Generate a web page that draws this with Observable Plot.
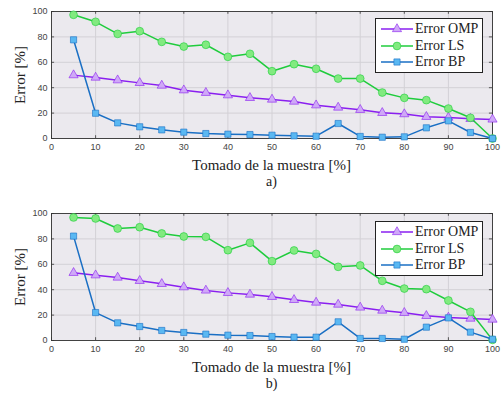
<!DOCTYPE html>
<html>
<head>
<meta charset="utf-8">
<script src="https://cdn.jsdelivr.net/npm/d3@7"></script>
<script src="https://cdn.jsdelivr.net/npm/@observablehq/plot@0.6"></script>
<style>
  body { margin: 0; background: #fff; }
  #wrap { width: 501px; position: relative; }
  .panel { position: relative; width: 501px; }
  .legend { position: absolute; background: #fff; border: 1px solid #222; box-sizing: border-box;
            font-family: "Liberation Serif", "Times New Roman", serif; font-size: 14px; color: #222; }
  .legend .row { display: flex; align-items: center; height: 16.5px; }
  .legend svg { flex: none; }
  .lbl { position: absolute; font-family: "Liberation Serif", "Times New Roman", serif; color: #222;
         white-space: nowrap; line-height: 1; transform: translate(-50%, -50%); }
  .lbl.rot { transform: translate(-50%, -50%) rotate(-90deg); }
</style>
</head>
<body>
<div id="wrap"></div>
<script>
const xs = [5,10,15,20,25,30,35,40,45,50,55,60,65,70,75,80,85,90,95,100];
const seriesNames = ["Error OMP", "Error LS", "Error BP"];
const panelLabels = ["a)", "b)"];
const xLabel = "Tomado de la muestra [%]";
const yLabel = "Error [%]";
const xTicks = [0,10,20,30,40,50,60,70,80,90,100];
const yTicks = [0,20,40,60,80,100];

// Panel a)
const ompA = [49.9,48,45.9,43.8,41.7,38,36,34.1,32,30.7,29.1,26.2,24.4,22.6,20.2,19.2,17.1,16.5,15.5,15];
const lsA  = [97.4,91.9,82.4,84.5,76.1,72.4,73.8,64.3,66.7,53,58.5,54.9,47.2,47.2,36.2,32,30.2,23.6,16.3,0];
const bpA  = [77.7,19.9,12.3,9.2,6.8,5,3.9,3.4,3.1,2.6,2.1,1.8,11.8,1.6,1,1.3,8.4,13.9,4.7,0];
// Panel b)
const ompB = [53.3,51.4,49.6,47,44.6,42,39.4,37.5,36.2,34.4,32,29.9,28.3,26,23.6,21.8,19.4,18.1,17.3,16.5];
const lsB  = [96.9,96.1,88.2,89.2,84.3,81.9,81.6,71.1,76.9,62.5,70.9,68.2,58,59.1,47,40.9,40.4,31.5,22.6,0.5];
const bpB  = [82.2,22,13.9,11,7.9,6.3,5,4.2,3.9,3.1,2.6,2.6,14.7,1.6,1.6,1,10.5,17.8,6.6,1];

const styles = {
  "Error OMP": {stroke: "#8a1ff0", fill: "#cfa9f7", symbol: "triangle", r: 3.4},
  "Error LS":  {stroke: "#1fcc3c", fill: "#82ea80", symbol: "circle", r: 3.9},
  "Error BP":  {stroke: "#1a6fc4", fill: "#5ab8f2", symbol: "square", r: 3.5}
};

function table(omp, ls, bp) {
  const rows = [];
  [omp, ls, bp].forEach((vals, k) => vals.forEach((v, i) => rows.push({x: xs[i], y: v, s: seriesNames[k]})));
  return rows;
}

const panels = [
  {data: table(ompA, lsA, bpA), label: panelLabels[0], height: 195, mt: 11, mb: 57, legendTop: 18},
  {data: table(ompB, lsB, bpB), label: panelLabels[1], height: 201, mt: 18, mb: 56, legendTop: 26}
];

const wrap = document.getElementById("wrap");
const ML = 51, MR = 9;

function addLabel(parent, text, x, y, size, rot) {
  const el = document.createElement("div");
  el.className = "lbl" + (rot ? " rot" : "");
  el.textContent = text;
  el.style.left = x + "px";
  el.style.top = y + "px";
  el.style.fontSize = size + "px";
  parent.appendChild(el);
}

for (const p of panels) {
  const marks = [
    Plot.frame({fill: "#ebe9ee"}),
    Plot.ruleX(xTicks, {x: d => d, stroke: "#d3d1d6", strokeWidth: 1}),
    Plot.ruleY(yTicks, {y: d => d, stroke: "#d3d1d6", strokeWidth: 1}),
    // inward ticks (bottom, top, left, right)
    Plot.ruleX(xTicks, {x: d => d, y1: 0, y2: 2.2, stroke: "#333", strokeWidth: 0.8}),
    Plot.ruleX(xTicks, {x: d => d, y1: 100, y2: 97.8, stroke: "#333", strokeWidth: 0.8}),
    Plot.ruleY(yTicks, {y: d => d, x1: 0, x2: 0.7, stroke: "#333", strokeWidth: 0.8}),
    Plot.ruleY(yTicks, {y: d => d, x1: 100, x2: 99.3, stroke: "#333", strokeWidth: 0.8}),
    Plot.frame({stroke: "#333", strokeWidth: 0.9})
  ];
  for (const name of seriesNames) {
    const st = styles[name];
    const d = p.data.filter(r => r.s === name);
    marks.push(Plot.line(d, {x: "x", y: "y", stroke: st.stroke, strokeWidth: 1.5}));
    marks.push(Plot.dot(d, {x: "x", y: "y", symbol: st.symbol, r: st.r, fill: st.fill, stroke: st.stroke, strokeWidth: 0.6}));
  }

  const chart = Plot.plot({
    width: 501,
    height: p.height,
    marginLeft: ML,
    marginRight: MR,
    marginTop: p.mt,
    marginBottom: p.mb,
    style: {fontFamily: '"Liberation Sans", Arial, sans-serif', fontSize: "9px", color: "#444", background: "#fff"},
    x: {domain: [0, 100], ticks: xTicks, tickSize: 0, tickPadding: 5, label: null},
    y: {domain: [0, 100], ticks: yTicks, tickSize: 0, tickPadding: 4, label: null},
    marks
  });

  const panel = document.createElement("div");
  panel.className = "panel";
  panel.style.height = p.height + "px";
  panel.appendChild(chart);

  const cx = ML + (501 - ML - MR) / 2;
  const plotBottom = p.height - p.mb;
  addLabel(panel, xLabel, cx, plotBottom + 27, 15, false);
  addLabel(panel, p.label, cx, plotBottom + 44, 14, false);
  addLabel(panel, yLabel, 20, (p.mt + plotBottom) / 2, 15, true);

  const leg = document.createElement("div");
  leg.className = "legend";
  leg.style.left = "375px";
  leg.style.top = p.legendTop + "px";
  leg.style.width = "108px";
  leg.style.height = "55px";
  leg.style.padding = "2px 0 0 4px";
  for (const name of seriesNames) {
    const st = styles[name];
    const row = document.createElement("div");
    row.className = "row";
    const sym = d3.symbol(st.symbol === "triangle" ? d3.symbolTriangle : st.symbol === "circle" ? d3.symbolCircle : d3.symbolSquare, Math.PI * st.r * st.r)();
    row.innerHTML = `<svg width="34" height="14"><line x1="1" x2="33" y1="7" y2="7" stroke="${st.stroke}" stroke-width="1.5"/><path d="${sym}" transform="translate(17,7)" fill="${st.fill}" stroke="${st.stroke}" stroke-width="0.6"/></svg><span style="margin-left:1px">${name}</span>`;
    leg.appendChild(row);
  }
  panel.appendChild(leg);
  wrap.appendChild(panel);
}
</script>
</body>
</html>
